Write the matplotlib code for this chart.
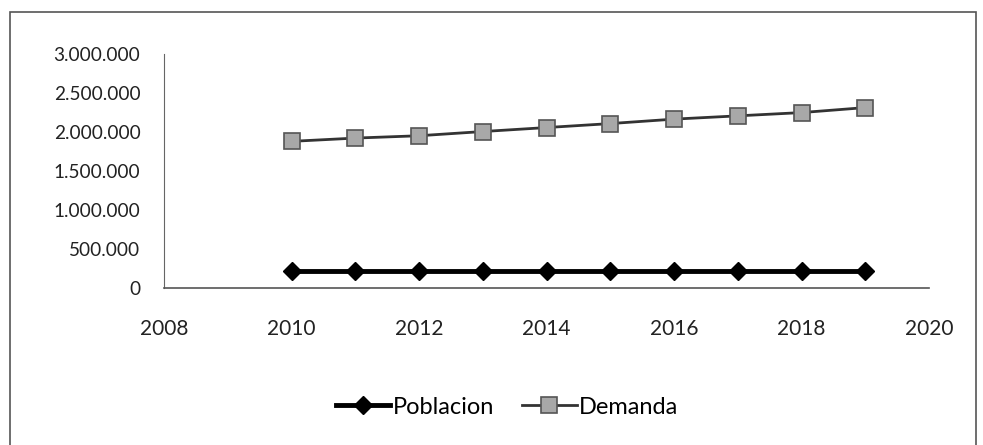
import matplotlib
matplotlib.use("Agg")
import matplotlib.pyplot as plt
from matplotlib.ticker import FuncFormatter
from matplotlib.patches import Rectangle

years = [2010, 2011, 2012, 2013, 2014, 2015, 2016, 2017, 2018, 2019]
poblacion = [218000, 218000, 218000, 218000, 218000, 218000, 218000, 218000, 218000, 218000]
demanda = [1880000, 1922000, 1952000, 2006000, 2057000, 2108000, 2165000, 2207000, 2249000, 2313000]
x_ticks = [2008, 2010, 2012, 2014, 2016, 2018, 2020]
y_ticks = [0, 500000, 1000000, 1500000, 2000000, 2500000, 3000000]

plt.rcParams['font.family'] = ['Lato', 'DejaVu Sans']

W, H = 983, 445
fig = plt.figure(figsize=(W / 100, H / 100), dpi=100)
fig.patch.set_facecolor('white')

# chart border
fig.add_artist(Rectangle((10 / W, -0.02), (976 - 10) / W, 1 - 12 / H + 0.02,
                         transform=fig.transFigure, fill=False,
                         edgecolor='#555555', linewidth=1.2))

ax = fig.add_axes([164 / W, 1 - 288 / H, (929 - 164) / W, (288 - 54) / H])
ax.plot(years, poblacion, color='black', linewidth=3.5, marker='D',
        markersize=9, markerfacecolor='black', markeredgecolor='black',
        label='Poblacion')
ax.plot(years, demanda, color='#333333', linewidth=2, marker='s',
        markersize=11, markerfacecolor='#a8a8a8', markeredgecolor='#555555',
        markeredgewidth=1.2, label='Demanda')

ax.set_xlim(2008, 2020)
ax.set_ylim(0, 3000000)
ax.set_xticks(x_ticks)
ax.set_yticks(y_ticks)
ax.yaxis.set_major_formatter(FuncFormatter(lambda v, p: f"{int(v):,}".replace(",", ".")))
for s in ['top', 'right']:
    ax.spines[s].set_visible(False)
ax.spines['left'].set_color('#666666')
ax.spines['bottom'].set_color('#555555')
ax.spines['left'].set_linewidth(0.8)
ax.spines['bottom'].set_linewidth(1.2)
ax.tick_params(axis='y', length=0, pad=17, labelsize=13.7, colors='#222222')
ax.tick_params(axis='x', length=0, pad=22, labelsize=15, colors='#222222')

leg = fig.legend(handles=ax.get_lines(), loc='center',
                 bbox_to_anchor=(507 / W, 1 - 407 / H), ncol=2,
                 frameon=False, fontsize=17, handlelength=2.3,
                 columnspacing=1.2, handletextpad=0.1, borderpad=0)

fig.savefig('out.png', dpi=100)
